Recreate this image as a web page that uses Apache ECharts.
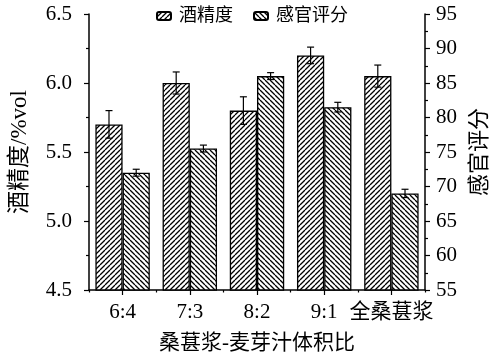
<!DOCTYPE html>
<html><head><meta charset="utf-8">
<script src="https://cdn.jsdelivr.net/npm/echarts@6/dist/echarts.min.js"></script>
<style>html,body{margin:0;padding:0;background:#fff}#c{width:499px;height:364px}</style>
</head><body><div id="c"></div>
<script>
const categories = ['6:4', '7:3', '8:2', '9:1', '全桑葚浆'];
const alcohol = [5.70, 6.00, 5.80, 6.20, 6.05];
const alcoholErr = [0.10, 0.08, 0.10, 0.06, 0.08];
const sensory = [72.0, 75.5, 86.0, 81.5, 69.0];
const sensoryErr = [0.5, 0.5, 0.5, 0.7, 0.6];
const seriesNames = ['酒精度', '感官评分'];
const xName = '桑葚浆-麦芽汁体积比';
const yLeftName = '酒精度/%vol';
const yRightName = '感官评分';

const FONT = "'Liberation Serif', 'Noto Sans CJK SC', serif";
const CAT_GAP = 0.19;

function hatch(dir) {
  const s = 5;
  const c = document.createElement('canvas');
  c.width = s; c.height = s;
  const g = c.getContext('2d');
  g.fillStyle = '#fff'; g.fillRect(0, 0, s, s);
  g.strokeStyle = '#000'; g.lineWidth = 1.3;
  g.beginPath();
  if (dir > 0) {
    for (let k = -1; k <= 1; k++) { g.moveTo(k * s, s); g.lineTo(k * s + s, 0); }
  } else {
    for (let k = -1; k <= 1; k++) { g.moveTo(k * s, 0); g.lineTo(k * s + s, s); }
  }
  g.stroke();
  return { image: c, repeat: 'repeat' };
}
const patA = hatch(1), patB = hatch(-1);

function errSeries(vals, errs, yIdx, side) {
  return {
    type: 'custom', yAxisIndex: yIdx, z: 5, silent: true,
    data: vals.map((v, i) => [i, v - errs[i], v + errs[i]]),
    renderItem: function (params, api) {
      const band = api.size([1, 0])[0];
      const bw = band * (1 - CAT_GAP) / 2;
      const lo = api.coord([api.value(0), api.value(1)]);
      const hi = api.coord([api.value(0), api.value(2)]);
      const x = lo[0] + side * bw / 2;
      const cw = 3.5;
      const st = { stroke: '#000', lineWidth: 1.2 };
      return { type: 'group', children: [
        { type: 'line', shape: { x1: x, y1: lo[1], x2: x, y2: hi[1] }, style: st },
        { type: 'line', shape: { x1: x - cw, y1: hi[1], x2: x + cw, y2: hi[1] }, style: st },
        { type: 'line', shape: { x1: x - cw, y1: lo[1], x2: x + cw, y2: lo[1] }, style: st }
      ]};
    }
  };
}

const axisLine = { show: true, lineStyle: { color: '#000', width: 1.5 } };
const chart = echarts.init(document.getElementById('c'));
chart.setOption({
  animation: false,
  textStyle: { fontFamily: FONT },
  grid: { left: 80, right: 65, top: 14, bottom: 74 },
  legend: {
    top: 2, left: 151, itemGap: 20, itemWidth: 14, itemHeight: 8,
    textStyle: { fontFamily: FONT, fontSize: 18, color: '#000', padding: [0, 0, 0, 3] },
    data: seriesNames
  },
  xAxis: [{
    type: 'category', data: categories,
    name: xName, nameLocation: 'middle', nameGap: 43,
    nameTextStyle: { fontSize: 21, color: '#000', fontFamily: FONT },
    axisLine: axisLine,
    axisTick: { show: true, alignWithLabel: true, length: 5, lineStyle: { color: '#000', width: 1.2 } },
    axisLabel: { color: '#000', fontSize: 21, margin: 12, interval: 0, fontFamily: FONT }
  }, {
    type: 'category', data: categories, position: 'bottom',
    axisLine: { show: false }, axisLabel: { show: false },
    axisTick: { show: true, length: 2.5, lineStyle: { color: '#000', width: 1.2 } }
  }],
  yAxis: [{
    type: 'value', min: 4.5, max: 6.5, interval: 0.5,
    name: yLeftName, nameLocation: 'middle', nameGap: 58,
    nameTextStyle: { fontSize: 23, color: '#000', fontFamily: FONT },
    axisLine: axisLine,
    axisTick: { show: true, length: 5, lineStyle: { color: '#000', width: 1.2 } },
    minorTick: { show: true, splitNumber: 2, length: 3, lineStyle: { color: '#000', width: 1.2 } },
    splitLine: { show: false },
    axisLabel: { color: '#000', fontSize: 21, margin: 17, fontFamily: FONT, formatter: v => v.toFixed(1) }
  }, {
    type: 'value', min: 55, max: 95, interval: 5,
    name: yRightName, nameLocation: 'middle', nameGap: 44,
    nameTextStyle: { fontSize: 22, color: '#000', fontFamily: FONT },
    axisLine: axisLine,
    axisTick: { show: true, length: 5, lineStyle: { color: '#000', width: 1.2 } },
    minorTick: { show: true, splitNumber: 2, length: 3, lineStyle: { color: '#000', width: 1.2 } },
    splitLine: { show: false },
    axisLabel: { color: '#000', fontSize: 21, margin: 11, fontFamily: FONT }
  }],
  series: [{
    name: seriesNames[0], type: 'bar', yAxisIndex: 0, data: alcohol,
    barGap: '0%', barCategoryGap: (CAT_GAP * 100) + '%',
    itemStyle: { color: patA, borderColor: '#000', borderWidth: 1.3 }
  }, {
    name: seriesNames[1], type: 'bar', yAxisIndex: 1, data: sensory,
    barGap: '0%', barCategoryGap: (CAT_GAP * 100) + '%',
    itemStyle: { color: patB, borderColor: '#000', borderWidth: 1.3 }
  },
  errSeries(alcohol, alcoholErr, 0, -1),
  errSeries(sensory, sensoryErr, 1, 1)
  ]
});
</script></body></html>
